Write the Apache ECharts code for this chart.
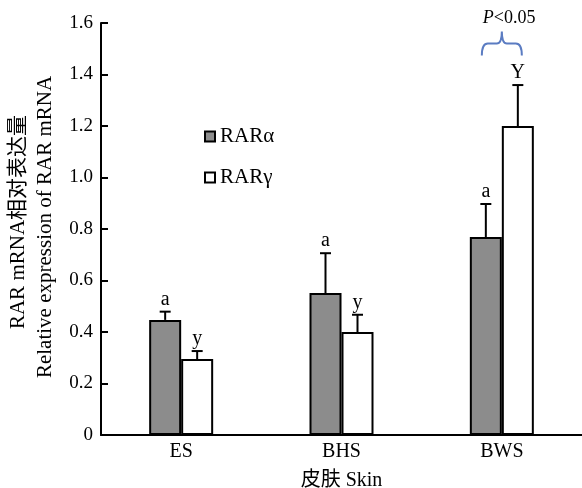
<!DOCTYPE html>
<html>
<head>
<meta charset="utf-8">
<script src="https://cdn.jsdelivr.net/npm/echarts@6/dist/echarts.min.js"></script>
<style>
html, body { margin: 0; padding: 0; background: #fff; }
#chart { width: 582px; height: 488px; }
</style>
</head>
<body>
<div id="chart"></div>
<script>
// 数据
var categories = ['ES', 'BHS', 'BWS'];
var alphaMean = [0.447, 0.551, 0.769];
var alphaErr = [0.032, 0.155, 0.128];
var gammaMean = [0.295, 0.400, 1.200];
var gammaErr = [0.031, 0.067, 0.159];
var alphaLetters = ['a', 'a', 'a'];
var gammaLetters = ['y', 'y', 'Y'];
var yTicks = [0, 0.2, 0.4, 0.6, 0.8, 1.0, 1.2, 1.4, 1.6];
var pLevel = [[2, 1.52]]; // 显著性括号所在高度

var FONT = '"Liberation Serif", "Times New Roman", "Noto Sans CJK SC", serif';
var BAR_W = 32;

// 误差线 + 字母标注
function errRenderer(means, errs, letters, side) {
	return function (params, api) {
		var i = params.dataIndex;
		var base = api.coord([i, means[i]]);
		var top = api.coord([i, means[i] + errs[i]]);
		var x = base[0] + side * BAR_W / 2;
		return {
			type: 'group',
			children: [
				{ type: 'line', shape: { x1: x, y1: base[1], x2: x, y2: top[1] }, style: { stroke: '#000', lineWidth: 2 } },
				{ type: 'line', shape: { x1: x - 5.5, y1: top[1], x2: x + 5.5, y2: top[1] }, style: { stroke: '#000', lineWidth: 2 } },
				{ type: 'text', style: { text: letters[i], x: x, y: top[1] - 2, align: 'center', verticalAlign: 'bottom', font: '20px ' + FONT, fill: '#000' } }
			]
		};
	};
}

// 显著性括号
function bracketRenderer(params, api) {
	var c = api.coord([api.value(0), api.value(1)]);
	var x1 = c[0] - 20, x2 = c[0] + 20, y = c[1];
	var m = (x1 + x2) / 2;
	var d = 'M' + x1 + ' ' + (y + 12) + ' Q' + x1 + ' ' + y + ' ' + (x1 + 6) + ' ' + y +
		' L' + (m - 5) + ' ' + y + ' Q' + m + ' ' + y + ' ' + m + ' ' + (y - 12) +
		' Q' + m + ' ' + y + ' ' + (m + 5) + ' ' + y +
		' L' + (x2 - 6) + ' ' + y + ' Q' + x2 + ' ' + y + ' ' + x2 + ' ' + (y + 12);
	return {
		type: 'group',
		children: [
			{ type: 'path', shape: { pathData: d }, style: { stroke: '#5b7cc2', lineWidth: 2, fill: null } },
			{ type: 'text', style: { text: '{i|P}<0.05', x: x1 + 1, y: y - 16, align: 'left', verticalAlign: 'bottom', font: '18px ' + FONT, fill: '#000',
				rich: { i: { fontStyle: 'italic', fontSize: 18, fontFamily: FONT } } } }
		]
	};
}

var myChart = echarts.init(document.getElementById('chart'));
myChart.setOption({
	backgroundColor: '#fff',
	animation: false,
	textStyle: { fontFamily: FONT, color: '#000' },
	grid: { left: 101, right: 0, top: 23, bottom: 53, outerBoundsMode: 'none', containLabel: false },
	legend: {
		orient: 'vertical', left: 204, top: 126, padding: 0,
		icon: 'rect', itemWidth: 10, itemHeight: 10, itemGap: 20,
		textStyle: { fontSize: 21, lineHeight: 21, fontFamily: FONT, color: '#000' },
		data: ['RARα', 'RARγ']
	},
	xAxis: {
		type: 'category', data: categories,
		axisLine: { lineStyle: { color: '#000', width: 2 } },
		axisTick: { show: false },
		axisLabel: { fontSize: 20, color: '#000', margin: 7, fontFamily: FONT },
		name: '皮肤 Skin', nameLocation: 'middle', nameGap: 36,
		nameTextStyle: { fontSize: 20, color: '#000', fontFamily: FONT }
	},
	yAxis: {
		type: 'value', min: 0, max: 1.6, interval: 0.2,
		axisLine: { show: true, lineStyle: { color: '#000', width: 2 } },
		axisTick: { show: true, inside: true, length: 7, lineStyle: { color: '#000', width: 2 } },
		splitLine: { show: false },
		axisLabel: {
			fontSize: 19, color: '#000', margin: 8, fontFamily: FONT,
			formatter: function (v) {
				var t = yTicks.filter(function (k) { return Math.abs(k - v) < 1e-6; })[0];
				return t === 0 ? '0' : t.toFixed(1);
			}
		}
	},
	graphic: [
		{ type: 'text', x: 18, y: 222, rotation: Math.PI / 2,
			style: { text: 'RAR mRNA相对表达量', font: '21px ' + FONT, align: 'center', verticalAlign: 'middle', fill: '#000' } },
		{ type: 'text', x: 45, y: 227, rotation: Math.PI / 2,
			style: { text: 'Relative expression of RAR mRNA', font: '21px ' + FONT, align: 'center', verticalAlign: 'middle', fill: '#000' } }
	],
	series: [
		{ name: 'RARα', type: 'bar', data: alphaMean, barWidth: BAR_W, barGap: '0%',
			itemStyle: { color: '#8c8c8c', borderColor: '#000', borderWidth: 2 } },
		{ name: 'RARγ', type: 'bar', data: gammaMean, barWidth: BAR_W, barGap: '0%',
			itemStyle: { color: '#fff', borderColor: '#000', borderWidth: 2 } },
		{ type: 'custom', data: alphaMean, renderItem: errRenderer(alphaMean, alphaErr, alphaLetters, -1), z: 5, silent: true },
		{ type: 'custom', data: gammaMean, renderItem: errRenderer(gammaMean, gammaErr, gammaLetters, 1), z: 5, silent: true },
		{ type: 'custom', data: pLevel, renderItem: bracketRenderer, z: 5, silent: true }
	]
});
</script>
</body>
</html>
